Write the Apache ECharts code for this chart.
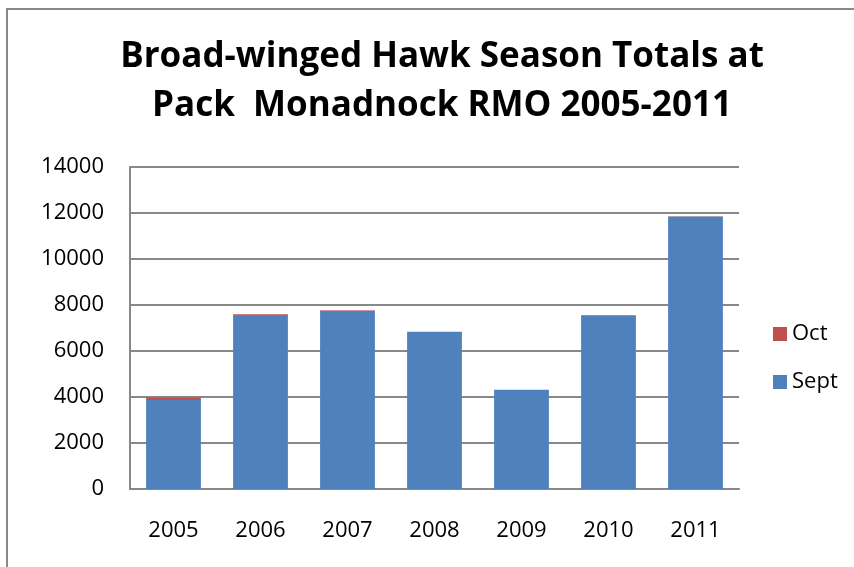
<!DOCTYPE html>
<html>
<head>
<meta charset="utf-8">
<script src="https://cdn.jsdelivr.net/npm/echarts@6/dist/echarts.min.js"></script>
<style>
  html, body { margin: 0; padding: 0; background: #fff; }
  #chart { width: 854px; height: 567px; }
</style>
</head>
<body>
<div id="chart"></div>
<script>
// season totals
const years = ['2005', '2006', '2007', '2008', '2009', '2010', '2011'];
const septCounts = [3870, 7570, 7750, 6840, 4310, 7545, 11845];
const octCounts = [110, 30, 20, 0, 10, 20, 12];
const yTicks = [0, 2000, 4000, 6000, 8000, 10000, 12000, 14000];

const chart = echarts.init(document.getElementById('chart'));
const font = '"Open Sans", "Noto Sans", sans-serif';

const option = {
  animation: false,
  backgroundColor: '#fff',
  title: {
    text: 'Broad-winged Hawk Season Totals at\nPack  Monadnock RMO 2005-2011',
    left: 437,
    textAlign: 'center',
    top: 28,
    textStyle: {
      fontFamily: font,
      fontSize: 35,
      fontWeight: 'bold',
      color: '#000',
      lineHeight: 49
    }
  },
  legend: {
    data: ['Oct', 'Sept'],
    orient: 'vertical',
    left: 768,
    top: 318,
    itemWidth: 14,
    itemHeight: 14,
    itemGap: 26,
    icon: 'rect',
    textStyle: { fontFamily: font, fontSize: 22, color: '#000' }
  },
  grid: { left: 130, right: 115, top: 167, bottom: 78 },
  xAxis: {
    type: 'category',
    data: years,
    axisLine: { lineStyle: { color: '#888', width: 2 } },
    axisTick: { show: false },
    axisLabel: { margin: 31, fontFamily: font, fontSize: 22, color: '#000' }
  },
  yAxis: {
    type: 'value',
    min: 0,
    max: yTicks[yTicks.length - 1],
    interval: yTicks[1] - yTicks[0],
    axisLine: { show: true, lineStyle: { color: '#888', width: 2 } },
    axisTick: { show: false },
    splitLine: { lineStyle: { color: '#888', width: 2 } },
    axisLabel: {
      margin: 26,
      fontFamily: font,
      fontSize: 22,
      color: '#000',
      formatter: (v) => String(v)
    }
  },
  series: [
    {
      name: 'Sept',
      type: 'bar',
      stack: 'total',
      barWidth: '63%',
      itemStyle: { color: '#4F81BD' },
      data: septCounts
    },
    {
      name: 'Oct',
      type: 'bar',
      stack: 'total',
      itemStyle: { color: '#C0504D' },
      data: octCounts
    }
  ],
  graphic: [
    {
      type: 'rect',
      shape: { x: 7, y: 9, width: 900, height: 600 },
      style: { fill: 'none', stroke: '#898989', lineWidth: 2 },
      silent: true
    }
  ]
};

chart.setOption(option);
</script>
</body>
</html>
